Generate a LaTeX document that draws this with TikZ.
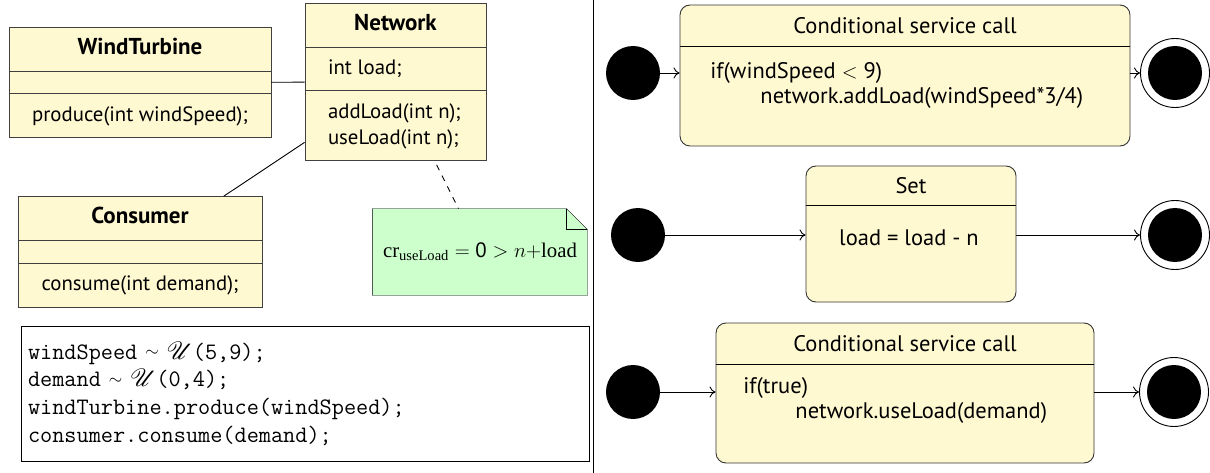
\documentclass[tikz,border=0pt]{standalone}
\usepackage{fontspec}
\setmainfont{Liberation Serif}
\newfontfamily\umlfont{PT Sans}
\usepackage{mathrsfs}
\usetikzlibrary{shapes.multipart,positioning,arrows.meta,backgrounds}
\definecolor{ClassFill}{HTML}{FFF9D2}
\definecolor{NoteFill}{HTML}{CCFFCC}
\newcommand{\classname}[1]{{\fontsize{23}{26}\selectfont\bfseries #1}}
\newcommand{\distsim}{\raisebox{2.5pt}{\fontsize{16}{16}\selectfont$\sim$}}

\begin{document}
\begin{tikzpicture}[x=1pt,y=-1pt,line width=0.9pt,
    every node/.style={font=\umlfont\fontsize{20.8}{26}\selectfont},
    umlclass/.style={rectangle split, rectangle split parts=3, draw=black!75, fill=ClassFill,
      inner xsep=20pt, inner ysep=8.5pt, rectangle split empty part height=5pt,
      rectangle split empty part depth=0pt, rectangle split part align={center,center,center}},
    notebox/.style={minimum width=214pt, minimum height=86pt, inner sep=0pt},
    codebox/.style={draw, minimum width=568pt, minimum height=135pt, text width=554pt,
      inner xsep=7pt, align=left, font=\ttfamily\fontsize{23.6}{27.7}\selectfont},
    statebox/.style={draw=black!80, fill=ClassFill, rounded corners=10pt, inner sep=0pt},
    statetitle/.style={minimum height=41pt, inner sep=0pt, font=\umlfont\fontsize{22.5}{25}\selectfont},
    statebody/.style={align=left, inner sep=0pt, font=\umlfont\fontsize{22.5}{25}\selectfont},
    startstate/.style={circle, fill=black, minimum size=54pt, inner sep=0pt},
    endstate/.style={circle, draw, fill=white, minimum size=69pt, inner sep=0pt,
      path picture={\fill[black] (path picture bounding box.center) circle (27pt);}},
    trans/.style={-{To[length=6pt,width=11pt]}}]
  \useasboundingbox (0,0) rectangle (1210,473);

  \node[umlclass, minimum width=262pt] (wind) at (140,82.5)
    {\classname{WindTurbine}\strut \nodepart{two} \nodepart{three} produce(int windSpeed);\strut};
  \node[umlclass, minimum width=181pt, inner xsep=23pt, rectangle split part align={center,left,left}] (net) at (395.5,82)
    {\classname{Network}\strut \nodepart{two} int load;\strut
     \nodepart{three} \begin{tabular}{@{}l@{}}addLoad(int n);\\ useLoad(int n);\end{tabular}};
  \node[umlclass, minimum width=244pt] (cons) at (140,252)
    {\classname{Consumer}\strut \nodepart{two} \nodepart{three} consume(int demand);\strut};
  \node[notebox] (note) at (480,252) {$\mathrm{cr}_{\mathrm{useLoad}}=\mbox{0}>n{+}\mathrm{load}$};
  \begin{scope}[on background layer]
    \filldraw[fill=NoteFill] (note.north west) -- ([xshift=-21pt]note.north east)
      -- ([yshift=-21pt]note.north east) -- (note.south east) -- (note.south west) -- cycle;
    \draw ([xshift=-21pt]note.north east) |- ([yshift=-21pt]note.north east);
  \end{scope}
  \draw (wind) -- (net);
  \draw (net) -- (cons);
  \draw[dash pattern=on 6pt off 6pt, shorten <=4pt] (net) -- (note);

  \node[codebox] (code) at (305,393.5)
    {windSpeed\ \distsim\ $\mathscr{U}$(5,9);\\
     demand\ \distsim\ $\mathscr{U}$(0,4);\\
     windTurbine.produce(windSpeed);\\
     consumer.consume(demand);};

  \draw (593,0) -- (593,473);

  \node[statebox, minimum width=450pt, minimum height=141pt] (callwind) at (905,75.5) {};
  \node[statetitle, below=0pt of callwind.north] (callwindtitle) {Conditional service call};
  \draw (callwindtitle.south -| callwind.west) -- (callwindtitle.south -| callwind.east);
  \node[statebody, anchor=west] (callwindbody) at (710,85.5)
    {if(windSpeed $<$ 9)\\ \hspace*{50pt}network.addLoad(windSpeed*3/4)};
  \node[startstate] (start1) at (633,73) {};
  \node[endstate] (end1) at (1175,73) {};
  \draw[trans] (start1) -- (start1 -| callwind.west);
  \draw[trans] (callwind.east |- end1) -- (end1);

  \node[statebox, minimum width=210pt, minimum height=136pt] (setload) at (911,234) {};
  \node[statetitle, minimum height=39pt, below=0pt of setload.north] (setloadtitle) {Set};
  \draw (setloadtitle.south -| setload.west) -- (setloadtitle.south -| setload.east);
  \node[statebody] (setloadbody) at (909,238) {load = load - n};
  \node[startstate] (start2) at (638,235) {};
  \node[endstate] (end2) at (1175,235) {};
  \draw[trans] (start2) -- (start2 -| setload.west);
  \draw[trans] (setload.east |- end2) -- (end2);

  \node[statebox, minimum width=378pt, minimum height=140pt] (calluse) at (905,393) {};
  \node[statetitle, below=0pt of calluse.north] (callusetitle) {Conditional service call};
  \draw (callusetitle.south -| calluse.west) -- (callusetitle.south -| calluse.east);
  \node[statebody, anchor=west] (callusebody) at (743,400)
    {if(true)\\ \hspace*{52pt}network.useLoad(demand)};
  \node[startstate] (start3) at (633,392) {};
  \node[endstate] (end3) at (1174,392) {};
  \draw[trans] (start3) -- (start3 -| calluse.west);
  \draw[trans] (calluse.east |- end3) -- (end3);
\end{tikzpicture}
\end{document}
